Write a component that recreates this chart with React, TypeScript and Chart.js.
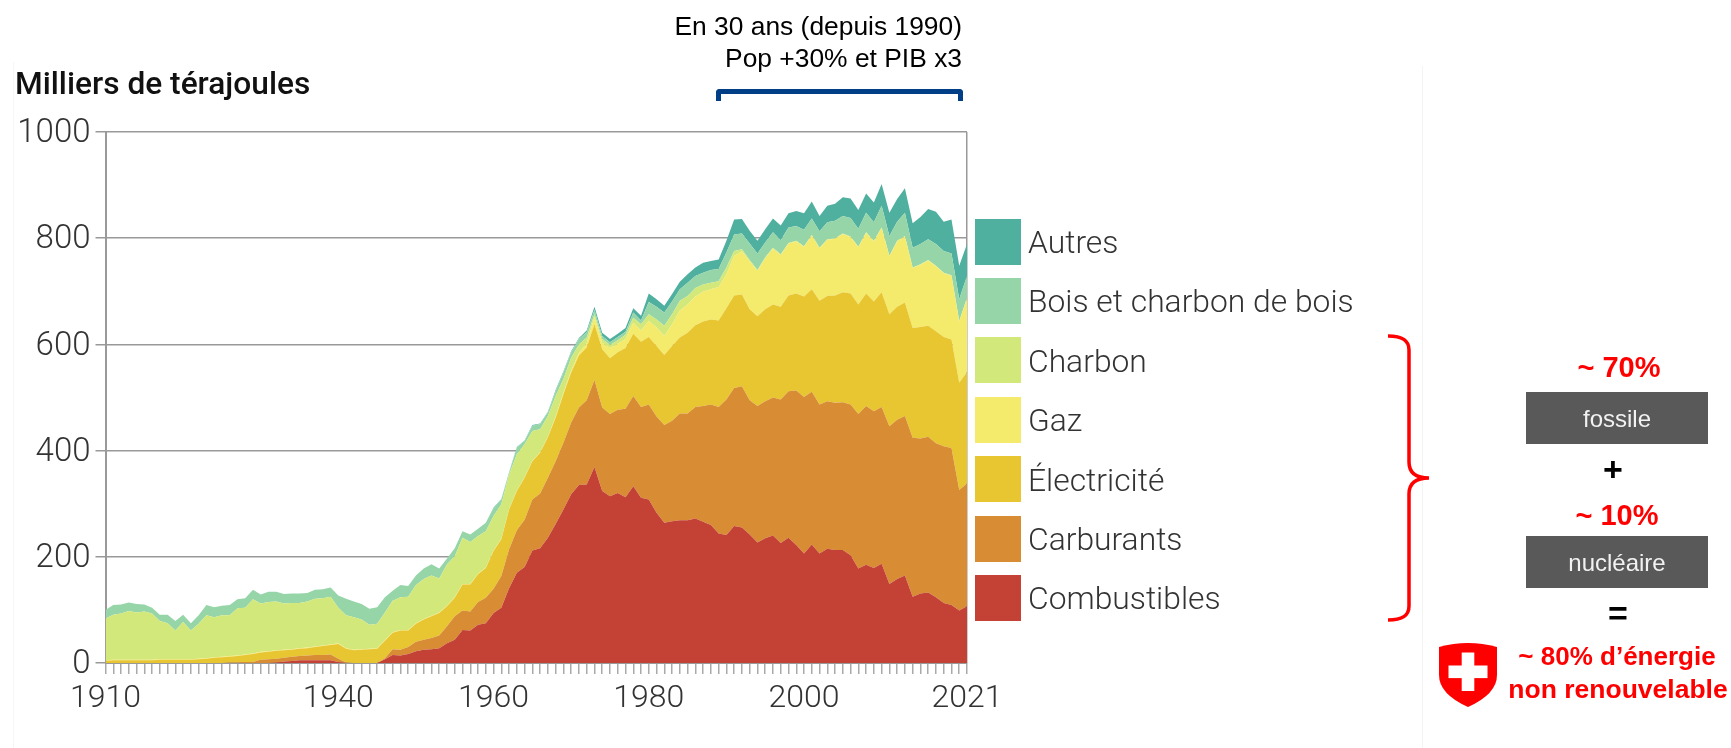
import React, { useEffect, useRef } from "react";
import { Chart, registerables } from "chart.js";

Chart.register(...registerables);

const years: number[] = [];
for (let y = 1910; y <= 2021; y++) years.push(y);
const labelledYears = [1910, 1940, 1960, 1980, 2000, 2021];
const yTicks = { min: 0, max: 1000, step: 200 };

// Upper edge of each band (thousands of terajoules)
const topCombustibles = [
  0,0,0,0,0,0,0,0,0,0,
  0,0,0,0,0,0,0,0,0,0,
  0,0,1,3,4,5,5,5,5,5,
  2,0,0,0,0,0,7,15,14,17,
  22,25,26,28,37,44,62,61,72,75,
  94,104,141,170,181,212,216,236,262,289,
  318,335,336,369,324,314,320,312,333,311,
  308,283,264,267,269,269,272,266,260,244,
  241,258,255,242,227,235,240,226,236,222,
  206,223,206,215,213,213,203,178,185,179,
  187,149,158,165,125,131,133,124,113,109,
  99,107,
];
const topCarburants = [
  0,0,0,0,0,0,0,0,0,0,
  0,0,0,0,0,0,1,1,2,2,
  6,7,8,10,12,13,14,15,15,16,
  8,1,0,0,0,0,9,26,25,30,
  40,44,47,52,69,88,99,97,115,123,
  140,164,214,250,270,308,319,349,380,415,
  453,481,495,533,481,469,477,479,503,482,
  487,464,448,456,470,470,482,484,487,482,
  496,518,521,495,484,493,500,496,512,513,
  501,511,487,493,490,491,487,469,484,474,
  482,446,458,465,424,423,426,414,408,405,
  326,338,
];
const topElectricite = [
  4,5,5,5,5,5,5,6,6,6,
  6,6,7,8,10,11,12,13,15,17,
  20,21,23,24,25,27,28,30,32,34,
  36,27,24,25,26,27,42,57,61,61,
  74,82,88,94,107,123,148,148,167,179,
  211,233,289,324,349,380,396,425,462,506,
  547,579,594,638,591,574,585,593,620,605,
  614,597,580,597,613,622,636,643,647,645,
  668,692,694,666,653,666,675,671,692,696,
  690,704,682,691,692,698,696,675,696,681,
  698,657,671,679,631,633,635,625,614,609,
  528,548,
];
const topGaz = [
  5,6,6,6,6,6,6,7,7,7,
  7,7,8,9,11,12,13,14,16,18,
  21,22,24,25,26,28,29,31,33,35,
  37,28,25,26,27,28,43,58,62,62,
  75,83,89,95,108,124,149,149,168,180,
  212,234,290,325,350,381,397,426,464,509,
  551,584,602,651,603,593,601,610,641,626,
  644,632,616,638,664,675,690,699,704,708,
  732,767,775,756,738,762,780,768,790,794,
  784,805,781,797,799,808,802,783,810,794,
  819,766,794,803,744,750,758,747,734,729,
  643,687,
];
const topCharbon = [
  84,91,93,98,95,97,93,79,75,61,
  77,61,74,90,86,90,90,103,104,120,
  112,115,116,112,113,113,116,121,122,125,
  104,90,86,82,72,74,95,117,124,125,
  147,158,165,159,186,201,236,228,239,248,
  277,299,355,393,412,437,440,465,503,535,
  575,600,613,657,610,599,608,618,650,638,
  657,647,635,657,682,691,706,713,716,719,
  745,776,779,759,740,764,782,770,791,795,
  785,806,782,798,800,809,803,784,811,795,
  820,767,795,804,745,751,759,748,735,730,
  644,688,
];
const topBois = [
  100,109,110,114,111,110,104,91,91,79,
  91,75,90,109,105,108,109,120,122,138,
  129,134,134,130,131,131,132,138,139,142,
  127,121,116,111,102,105,124,136,147,145,
  165,178,186,178,197,216,248,242,253,264,
  292,308,358,406,418,447,450,472,512,547,
  585,610,623,665,616,604,614,624,660,645,
  680,671,660,681,704,716,729,735,740,742,
  773,807,809,790,771,792,811,796,820,823,
  816,837,813,830,833,842,838,818,848,830,
  861,804,831,848,782,789,798,789,776,771,
  685,729,
];
const topAutres = [
  100,109,110,114,111,110,104,91,91,79,
  91,75,90,109,105,108,109,120,122,138,
  129,134,134,130,131,131,132,138,139,142,
  127,121,116,111,102,105,124,136,147,145,
  165,178,186,178,197,216,248,242,253,264,
  293,309,359,407,419,448,451,473,514,549,
  587,612,626,671,622,610,620,631,668,654,
  696,685,673,695,718,732,745,754,757,760,
  795,835,836,814,795,817,837,824,847,851,
  847,869,842,861,865,877,875,853,884,867,
  902,848,874,894,828,840,855,850,831,835,
  748,789,
];

const band = (top: number[], below: number[] | null) =>
  top.map((v, i) => (below ? v - below[i] : v));

const seriesNames = ["Combustibles", "Carburants", "Électricité", "Gaz", "Charbon", "Bois et charbon de bois", "Autres"];
const seriesColors = ["#c44135", "#d88c33", "#e8c631", "#f4ea6c", "#d3e87a", "#95d5a8", "#50b0a0"];
const seriesValues = [
  band(topCombustibles, null),
  band(topCarburants, topCombustibles),
  band(topElectricite, topCarburants),
  band(topGaz, topElectricite),
  band(topCharbon, topGaz),
  band(topBois, topCharbon),
  band(topAutres, topBois),
];

const LIGHT = "Roboto, sans-serif";
const ARIAL = "'Liberation Sans', Arial, sans-serif";

function Label(p: { x: number; y: number; text: string; size: number; color?: string; weight?: number; align?: "center" | "right" | "left"; font?: string }) {
  const tx = p.align === "right" ? "-100%" : p.align === "left" ? "0" : "-50%";
  return (
    <div style={{ position: "absolute", left: p.x, top: p.y, transform: `translate(${tx},-50%)`, whiteSpace: "nowrap", fontFamily: p.font || ARIAL, fontSize: p.size, fontWeight: p.weight || 400, color: p.color || "#000", lineHeight: 1 }}>
      {p.text}
    </div>
  );
}

export default function App() {
  const ref = useRef<HTMLCanvasElement>(null);
  useEffect(() => {
    const chart = new Chart(ref.current!, {
      type: "line",
      data: {
        labels: years.map(String),
        datasets: seriesNames.map((name, i) => ({
          label: name,
          data: seriesValues[i],
          backgroundColor: seriesColors[i],
          borderWidth: 0,
          pointRadius: 0,
          tension: 0,
          fill: i === 0 ? "origin" : "-1",
        })),
      },
      options: {
        animation: false,
        responsive: false,
        layout: { padding: { left: 0, top: 132, right: 73, bottom: 0 } },
        plugins: { legend: { display: false }, tooltip: { enabled: false } },
        scales: {
          x: {
            stacked: true,
            offset: false,
            afterFit: (s: any) => { s.height = 58; },
            grid: {
              color: (c: any) => (c.index === years.length - 1 ? "#999999" : "rgba(0,0,0,0)"),
              tickColor: "#aaaaaa",
              tickLength: 11,
              lineWidth: 1.5,
              tickWidth: 1.5,
            },
            border: { color: "#999999", width: 2 },
            ticks: {
              autoSkip: false,
              maxRotation: 0,
              padding: 6,
              color: "#333333",
              font: { family: "Roboto", size: 32, weight: "300" },
              callback: (_v: any, i: number) => (labelledYears.includes(years[i]) ? String(years[i]) : ""),
            },
          },
          y: {
            stacked: true,
            min: yTicks.min,
            max: yTicks.max,
            afterFit: (s: any) => { s.width = 105.5; },
            grid: { color: "#999999", tickColor: "#999999", tickLength: 10, lineWidth: 1.5 },
            border: { color: "#999999", width: 2 },
            ticks: {
              stepSize: yTicks.step,
              padding: 5,
              labelOffset: 2,
              color: "#333333",
              font: { family: "Roboto", size: 33, weight: "300" },
              callback: (v: any) => String(v),
            },
          },
        },
      },
    } as any);
    return () => chart.destroy();
  }, []);

  const legend = seriesNames.map((n, i) => ({ n, c: seriesColors[i] })).reverse();

  return (
    <div style={{ position: "absolute", left: 0, top: 0, width: 1731, height: 748, overflow: "hidden", background: "#fff" }}>
      <div style={{ position: "absolute", left: 13, top: 62, width: 1, height: 686, background: "#f6f6f6" }} />
      <div style={{ position: "absolute", left: 1422, top: 66, width: 1, height: 682, background: "#f4f4f4" }} />
      <canvas ref={ref} width={1040} height={721} style={{ position: "absolute", left: 0, top: 0 }} />

      <Label x={15} y={84} text="Milliers de térajoules" size={31.7} weight={500} font={LIGHT} color="#111" align="left" />
      <Label x={962} y={26} text="En 30 ans (depuis 1990)" size={26.4} align="right" />
      <Label x={962} y={58} text="Pop +30% et PIB x3" size={26.4} align="right" />
      <div style={{ position: "absolute", left: 716, top: 89, width: 247, height: 12, boxSizing: "border-box", borderTop: "5px solid #003f85", borderLeft: "5px solid #003f85", borderRight: "5px solid #003f85", borderRadius: "4px 4px 0 0" }} />

      {legend.map((l, i) => (
        <React.Fragment key={l.n}>
          <div style={{ position: "absolute", left: 975, top: 218.5 + i * 59.4, width: 46, height: 46, background: l.c }} />
          <Label x={1028} y={243 + i * 59.4} text={l.n} size={31.8} weight={300} font={LIGHT} color="#333" align="left" />
        </React.Fragment>
      ))}

      <svg width={1731} height={748} style={{ position: "absolute", left: 0, top: 0, pointerEvents: "none" }}>
        <path d="M1388 336 C1402 336 1409 340 1409 350 L1409 462 C1409 473 1416 478 1429 478 C1416 478 1409 483 1409 494 L1409 606 C1409 616 1402 620 1388 620" fill="none" stroke="#ff0000" strokeWidth={3.5} />
        <path d="M1439 647 Q1468 639 1497 647 L1497 675 Q1497 694 1468 707 Q1439 694 1439 675 Z" fill="#ff0000" />
        <rect x={1461.7} y={652.5} width={12.6} height={38.5} fill="#fff" />
        <rect x={1448.5} y={665.5} width={39} height={12.6} fill="#fff" />
      </svg>

      <Label x={1619} y={367} text="~ 70%" size={29} weight={700} color="#ff0000" />
      <div style={{ position: "absolute", left: 1526, top: 392, width: 182, height: 52, background: "#595959" }} />
      <Label x={1617} y={419} text="fossile" size={24} color="#f2f2f2" />
      <Label x={1613} y={469} text="+" size={34} weight={700} />
      <Label x={1617} y={515} text="~ 10%" size={29} weight={700} color="#ff0000" />
      <div style={{ position: "absolute", left: 1526, top: 536, width: 182, height: 52, background: "#595959" }} />
      <Label x={1617} y={563} text="nucléaire" size={24} color="#f2f2f2" />
      <Label x={1618} y={613} text="=" size={34} weight={700} />
      <Label x={1617} y={656} text="~ 80% d’énergie" size={26} weight={700} color="#ff0000" />
      <Label x={1618} y={689} text="non renouvelable" size={26.5} weight={700} color="#ff0000" />
    </div>
  );
}
